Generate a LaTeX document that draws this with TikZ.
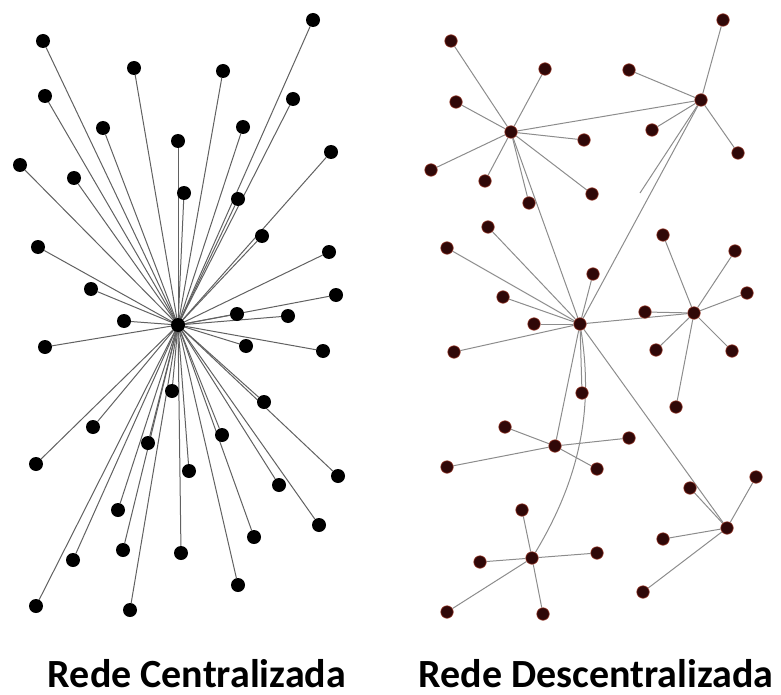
\documentclass[tikz,border=0pt]{standalone}
\usepackage{fontspec}
\usepackage{tikz}
\usepackage{xcolor}
\usetikzlibrary{backgrounds}
\newfontfamily\labelfont{Carlito}

\definecolor{dotbrown}{RGB}{48,8,8}
\definecolor{rimbrown}{RGB}{150,55,40}

\tikzset{
  cdot/.style={circle,fill=black,inner sep=0pt,minimum size=14pt},
  ddot/.style={circle,fill=dotbrown,draw=rimbrown,line width=0.6pt,inner sep=0pt,minimum size=12.5pt},
  cspoke/.style={draw=black!62,line width=1pt},
  dspoke/.style={draw=black!45,line width=1pt},
  netlabel/.style={font=\labelfont\bfseries\fontsize{40}{44}\selectfont,inner sep=0pt,anchor=base}
}

\begin{document}
\begin{tikzpicture}[x=1pt,y=1pt,yscale=-1]
\useasboundingbox (0,0) rectangle (781,695);

% Centralized net: hub
\node[cdot] (lc) at (178,325) {};
% Centralized net: leaves
\node[cdot] (l1) at (43,41) {};
\node[cdot] (l2) at (313,20) {};
\node[cdot] (l3) at (134,68) {};
\node[cdot] (l4) at (223,71) {};
\node[cdot] (l5) at (45,96) {};
\node[cdot] (l6) at (293,99) {};
\node[cdot] (l7) at (103,128) {};
\node[cdot] (l8) at (243,127) {};
\node[cdot] (l9) at (178,141) {};
\node[cdot] (l10) at (20,165) {};
\node[cdot] (l11) at (331,152) {};
\node[cdot] (l12) at (74,178) {};
\node[cdot] (l13) at (184,193) {};
\node[cdot] (l14) at (238,199) {};
\node[cdot] (l15) at (262,236) {};
\node[cdot] (l16) at (38,247) {};
\node[cdot] (l17) at (329,252) {};
\node[cdot] (l18) at (91,289) {};
\node[cdot] (l19) at (336,295) {};
\node[cdot] (l20) at (237,314) {};
\node[cdot] (l21) at (288,316) {};
\node[cdot] (l22) at (124,321) {};
\node[cdot] (l23) at (45,347) {};
\node[cdot] (l24) at (246,346) {};
\node[cdot] (l25) at (323,351) {};
\node[cdot] (l26) at (172,391) {};
\node[cdot] (l27) at (264,402) {};
\node[cdot] (l28) at (93,427) {};
\node[cdot] (l29) at (148,443) {};
\node[cdot] (l30) at (222,435) {};
\node[cdot] (l31) at (36,464) {};
\node[cdot] (l32) at (189,471) {};
\node[cdot] (l33) at (338,476) {};
\node[cdot] (l34) at (279,485) {};
\node[cdot] (l35) at (118,510) {};
\node[cdot] (l36) at (319,525) {};
\node[cdot] (l37) at (254,537) {};
\node[cdot] (l38) at (123,550) {};
\node[cdot] (l39) at (73,560) {};
\node[cdot] (l40) at (181,553) {};
\node[cdot] (l41) at (238,585) {};
\node[cdot] (l42) at (36,606) {};
\node[cdot] (l43) at (130,610) {};

% Decentralized net: hubs
\node[ddot] (ra) at (511,132) {};
\node[ddot] (rb) at (701,100) {};
\node[ddot] (rc) at (580,324) {};
\node[ddot] (rd) at (694,313) {};
\node[ddot] (re) at (555,446) {};
\node[ddot] (rf) at (727,528) {};
\node[ddot] (rg) at (532,558) {};
% leaves of hub a
\node[ddot] (ra1) at (451,41) {};
\node[ddot] (ra2) at (545,69) {};
\node[ddot] (ra3) at (456,102) {};
\node[ddot] (ra4) at (584,140) {};
\node[ddot] (ra5) at (431,170) {};
\node[ddot] (ra6) at (485,181) {};
\node[ddot] (ra7) at (592,194) {};
\node[ddot] (ra8) at (529,203) {};
% leaves of hub b
\node[ddot] (rb1) at (723,20) {};
\node[ddot] (rb2) at (629,70) {};
\node[ddot] (rb3) at (652,130) {};
\node[ddot] (rb4) at (738,153) {};
\coordinate (rbstub) at (640,193);
% leaves of hub c
\node[ddot] (rc1) at (488,227) {};
\node[ddot] (rc2) at (447,248) {};
\node[ddot] (rc3) at (503,297) {};
\node[ddot] (rc4) at (534,324) {};
\node[ddot] (rc5) at (593,274) {};
\node[ddot] (rc6) at (454,352) {};
\node[ddot] (rc7) at (582,393) {};
% leaves of hub d
\node[ddot] (rd1) at (663,235) {};
\node[ddot] (rd2) at (735,251) {};
\node[ddot] (rd3) at (747,293) {};
\node[ddot] (rd4) at (645,312) {};
\node[ddot] (rd5) at (656,350) {};
\node[ddot] (rd6) at (732,351) {};
\node[ddot] (rd7) at (676,407) {};
% leaves of hub e
\node[ddot] (re1) at (505,427) {};
\node[ddot] (re2) at (629,438) {};
\node[ddot] (re3) at (447,467) {};
\node[ddot] (re4) at (597,469) {};
% leaves of hub f
\node[ddot] (rf1) at (756,477) {};
\node[ddot] (rf2) at (690,488) {};
\node[ddot] (rf3) at (663,539) {};
\node[ddot] (rf4) at (643,592) {};
% leaves of hub g
\node[ddot] (rg1) at (522,510) {};
\node[ddot] (rg2) at (480,562) {};
\node[ddot] (rg3) at (597,553) {};
\node[ddot] (rg4) at (447,612) {};
\node[ddot] (rg5) at (543,614) {};

\begin{pgfonlayer}{background}
% spokes of the centralized net
\foreach \i in {1,...,43}
  \draw[cspoke] (lc.center) -- (l\i);
% spokes of the decentralized net
\foreach \i in {1,...,8}
  \draw[dspoke] (ra) -- (ra\i);
\foreach \i in {1,...,4}
  \draw[dspoke] (rb) -- (rb\i);
\foreach \i in {1,...,7}
  \draw[dspoke] (rc) -- (rc\i);
\foreach \i in {1,...,7}
  \draw[dspoke] (rd) -- (rd\i);
\foreach \i in {1,...,4}
  \draw[dspoke] (re) -- (re\i);
\foreach \i in {1,...,4}
  \draw[dspoke] (rf) -- (rf\i);
\foreach \i in {1,...,5}
  \draw[dspoke] (rg) -- (rg\i);
% links between hubs
\draw[dspoke] (ra) -- (rb);
\draw[dspoke] (ra) -- (rc);
\draw[dspoke] (rb) -- (rc);
\draw[dspoke] (rb) -- (rbstub);
\draw[dspoke] (rc) -- (rd);
\draw[dspoke] (rc) -- (re);
\draw[dspoke] (rc) -- (rf);
\draw[dspoke] (rc) .. controls (592,400) and (585,470) .. (rg);
\end{pgfonlayer}

% Text Node
\node[netlabel] (lname) at (197,687) {Rede Centralizada};
% Text Node
\node[netlabel] (rname) at (596,687) {Rede Descentralizada};

\end{tikzpicture}
\end{document}
